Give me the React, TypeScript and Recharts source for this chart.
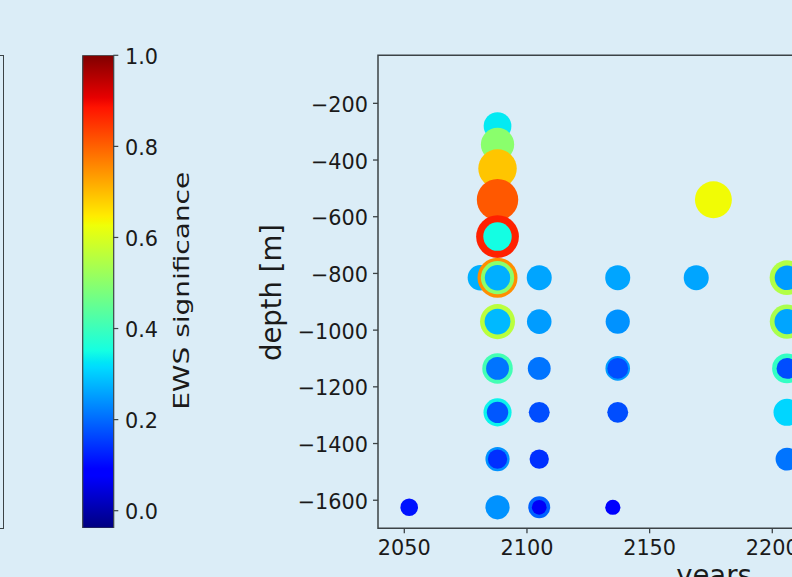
import React from "react";
import {
  ScatterChart,
  Scatter,
  BarChart,
  Bar,
  XAxis,
  YAxis,
  ReferenceArea,
} from "recharts";

// [year, depth (m), EWS significance]
type Pt = [number, number, number];

// drawn first (outer rings / single markers)
const outerLayer: Pt[] = [
  [2081, -815, 0.27],
  [2088, -280, 0.33],
  [2088, -345, 0.5],
  [2088, -430, 0.69],
  [2088, -540, 0.81],
  [2088, -670, 0.87],
  [2088, -815, 0.75],
  [2088, -970, 0.56],
  [2088, -1135, 0.41],
  [2088, -1290, 0.34],
  [2088, -1455, 0.24],
  [2088, -1625, 0.24],
  [2052, -1625, 0.11],
  [2105, -815, 0.26],
  [2105, -970, 0.25],
  [2105, -1135, 0.21],
  [2105, -1290, 0.17],
  [2105, -1455, 0.14],
  [2105, -1625, 0.19],
  [2137, -815, 0.26],
  [2137, -970, 0.24],
  [2137, -1135, 0.25],
  [2137, -1290, 0.17],
  [2135, -1625, 0.075],
  [2169, -815, 0.26],
  [2176, -540, 0.63],
  [2206, -815, 0.55],
  [2206, -970, 0.54],
  [2206, -1135, 0.39],
  [2206, -1290, 0.31],
  [2206, -1455, 0.21],
];

const middleLayer: Pt[] = [
  [2088, -670, 0.35],
  [2088, -815, 0.5],
  [2088, -970, 0.28],
  [2088, -1135, 0.21],
  [2088, -1290, 0.18],
  [2088, -1455, 0.14],
  [2105, -1625, 0.07],
  [2137, -1135, 0.17],
  [2206, -815, 0.25],
  [2206, -970, 0.26],
  [2206, -1135, 0.17],
];

const innerLayer: Pt[] = [[2088, -815, 0.27]];

const yearTicks = [2050, 2100, 2150, 2200, 2250, 2300];
const depthTicks = [-200, -400, -600, -800, -1000, -1200, -1400, -1600];
const cbarTicks = [0, 0.2, 0.4, 0.6, 0.8, 1.0];

const VMIN = -0.038;
const VMAX = 1;

const cbarData = [{ name: "EWS", range: [VMIN, VMAX] }];

const BG = "#dbedf7";
const SPINE = "#3c4346";
const TXT = "#1a1a1a";
const FONT = "DejaVu Sans, sans-serif";
const TICK_FS = 20.8;

// matplotlib "jet" segment data
const jetR: [number, number][] = [[0, 0], [0.35, 0], [0.66, 1], [0.89, 1], [1, 0.5]];
const jetG: [number, number][] = [[0, 0], [0.125, 0], [0.375, 1], [0.64, 1], [0.91, 0], [1, 0]];
const jetB: [number, number][] = [[0, 0.5], [0.11, 1], [0.34, 1], [0.65, 0], [1, 0]];
const jetStops = [0, 0.11, 0.125, 0.34, 0.35, 0.375, 0.64, 0.65, 0.66, 0.89, 0.91, 1];

function seg(s: [number, number][], t: number) {
  for (let i = 1; i < s.length; i++) {
    if (t <= s[i][0]) {
      const [x0, y0] = s[i - 1];
      const [x1, y1] = s[i];
      return y0 + ((t - x0) / (x1 - x0)) * (y1 - y0);
    }
  }
  return s[s.length - 1][1];
}

function jet(t: number) {
  const c = Math.max(0, Math.min(1, t));
  const h = (v: number) => Math.round(v * 255).toString(16).padStart(2, "0");
  return `#${h(seg(jetR, c))}${h(seg(jetG, c))}${h(seg(jetB, c))}`;
}

const sigColor = (v: number) => jet((v - VMIN) / (VMAX - VMIN));
const sigRadius = (v: number) => 1.8 + 21 * Math.sqrt(v);

const toRows = (pts: Pt[]) => pts.map(([year, depth, sig]) => ({ year, depth, sig }));

const fmtNum = (v: number) => (v < 0 ? `\u2212${Math.abs(v)}` : `${v}`);

const Marker = (props: any) => {
  const { cx, cy, payload } = props;
  if (cx == null || cy == null) return null;
  return <circle cx={cx} cy={cy} r={sigRadius(payload.sig)} fill={sigColor(payload.sig)} />;
};

const DepthTick = ({ x, y, payload }: any) => (
  <text x={x} y={y} dy={8.5} textAnchor="end" fontSize={TICK_FS} fill={TXT} fontFamily={FONT}>
    {fmtNum(payload.value)}
  </text>
);

const YearTick = ({ x, y, payload }: any) => (
  <text x={x} y={y} dy={15.2} textAnchor="middle" fontSize={TICK_FS} fill={TXT} fontFamily={FONT}>
    {fmtNum(payload.value)}
  </text>
);

const CbarTick = ({ x, y, payload }: any) => (
  <text x={x} y={y} dy={8.3} textAnchor="start" fontSize={TICK_FS} fill={TXT} fontFamily={FONT}>
    {Number(payload.value).toFixed(1)}
  </text>
);

function Colorbar() {
  return (
    <BarChart
      width={240}
      height={577}
      data={cbarData}
      barCategoryGap={0}
      barGap={0}
      margin={{ top: 55.3, right: 66.7, bottom: 49, left: 82.7 }}
    >
      <defs>
        <linearGradient id="jetGrad" x1="0" y1="1" x2="0" y2="0">
          {jetStops.map((s) => (
            <stop key={s} offset={s} stopColor={jet(s)} />
          ))}
        </linearGradient>
      </defs>
      <XAxis dataKey="name" hide />
      <YAxis
        type="number"
        orientation="right"
        width={60}
        domain={[VMIN, VMAX]}
        ticks={cbarTicks}
        allowDataOverflow
        axisLine={false}
        tickLine={{ stroke: SPINE, strokeWidth: 1.2 }}
        tickSize={5}
        tickMargin={6.7}
        tick={<CbarTick />}
        label={() => (
          <text
            x={189.3}
            y={290.8}
            transform="rotate(-90 189.3 290.8)"
            textAnchor="middle"
            fontSize={22}
            textLength={238}
            lengthAdjust="spacingAndGlyphs"
            fill={TXT}
            fontFamily={FONT}
          >
            EWS significance
          </text>
        )}
      />
      <Bar
        dataKey="range"
        fill="url(#jetGrad)"
        stroke={SPINE}
        strokeWidth={1.2}
        isAnimationActive={false}
      />
    </BarChart>
  );
}

function DepthScatter() {
  return (
    <ScatterChart
      width={1100}
      height={577}
      margin={{ top: 55.3, right: 50, bottom: 0, left: 0 }}
    >
      <XAxis
        type="number"
        dataKey="year"
        domain={[2039.28, 2313.2]}
        ticks={yearTicks}
        height={48.7}
        axisLine={false}
        tickLine={{ stroke: SPINE, strokeWidth: 1.3 }}
        tickSize={5}
        tickMargin={6}
        tick={<YearTick />}
        allowDataOverflow
        label={() => (
          <text x={714} y={585.2} textAnchor="middle" fontSize={27.5} fill={TXT} fontFamily={FONT}>
            years
          </text>
        )}
      />
      <YAxis
        type="number"
        dataKey="depth"
        domain={[-1699, -30.6]}
        ticks={depthTicks}
        width={378}
        axisLine={false}
        tickLine={{ stroke: SPINE, strokeWidth: 1.3 }}
        tickSize={5}
        tickMargin={5}
        tick={<DepthTick />}
        allowDataOverflow
        label={() => (
          <text
            x={281}
            y={292.5}
            transform="rotate(-90 281 292.5)"
            textAnchor="middle"
            fontSize={27.5}
            fill={TXT}
            fontFamily={FONT}
          >
            depth [m]
          </text>
        )}
      />
      <ReferenceArea
        x1={2039.28}
        x2={2313.2}
        y1={-1699}
        y2={-30.6}
        fill="none"
        stroke={SPINE}
        strokeWidth={1.5}
        ifOverflow="visible"
      />
      <Scatter data={toRows(outerLayer)} shape={<Marker />} isAnimationActive={false} />
      <Scatter data={toRows(middleLayer)} shape={<Marker />} isAnimationActive={false} />
      <Scatter data={toRows(innerLayer)} shape={<Marker />} isAnimationActive={false} />
    </ScatterChart>
  );
}

export default function App() {
  return (
    <div
      style={{
        position: "fixed",
        left: 0,
        top: 0,
        width: 792,
        height: 577,
        overflow: "hidden",
        background: BG,
      }}
    >
      {/* right edge of the neighbouring panel */}
      <div
        style={{
          position: "absolute",
          left: -20,
          top: 55,
          width: 21.5,
          height: 472,
          border: `1.5px solid ${SPINE}`,
        }}
      />
      <div style={{ position: "absolute", left: 0, top: 0 }}>
        <Colorbar />
      </div>
      <div style={{ position: "absolute", left: 0, top: 0 }}>
        <DepthScatter />
      </div>
    </div>
  );
}
